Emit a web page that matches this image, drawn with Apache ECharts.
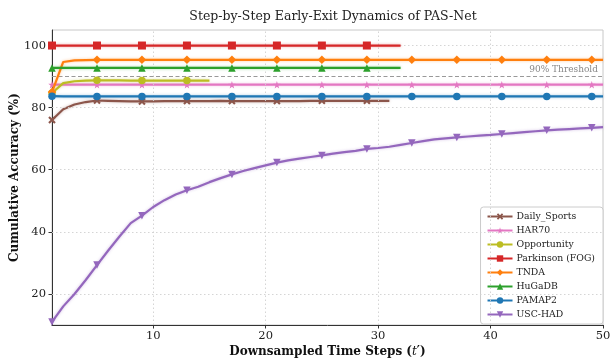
<!DOCTYPE html>
<html><head><meta charset="utf-8">
<script src="https://cdn.jsdelivr.net/npm/echarts@6/dist/echarts.min.js"></script>
<style>html,body{margin:0;padding:0;background:#fff}#c{width:610px;height:360px}</style>
</head><body><div id="c"></div>
<script>
const steps = [1,2,3,4,5,6,7,8,9,10,11,12,13,14,15,16,17,18,19,20,21,22,23,24,25,26,27,28,29,30,31,32,33,34,35,36,37,38,39,40,41,42,43,44,45,46,47,48,49,50];
const xTicks = [10,20,30,40,50];
const yTicks = [20,40,60,80,100];
const threshold = 90;

const dailySports = [76,79.5,81,81.8,82.3,82.2,82.1,82,82,82,82.1,82.1,82.1,82.1,82.1,82.2,82.1,82.1,82.1,82.1,82.1,82.1,82.1,82.2,82.2,82.2,82.2,82.2,82.2,82.2,82.2];
const har70 = [87.4,87.4,87.4,87.4,87.4,87.4,87.4,87.4,87.4,87.4,87.4,87.4,87.4,87.4,87.4,87.4,87.4,87.4,87.4,87.4,87.4,87.4,87.4,87.4,87.4,87.4,87.4,87.4,87.4,87.4,87.4,87.4,87.4,87.4,87.4,87.4,87.4,87.4,87.4,87.4,87.4,87.4,87.4,87.4,87.4,87.4,87.4,87.4,87.4,87.4];
const opportunity = [84.7,87.9,88.5,88.7,88.8,88.8,88.8,88.7,88.7,88.7,88.7,88.7,88.7,88.7,88.7];
const parkinson = [100,100,100,100,100,100,100,100,100,100,100,100,100,100,100,100,100,100,100,100,100,100,100,100,100,100,100,100,100,100,100,100];
const tnda = [85,94.7,95.2,95.3,95.4,95.4,95.4,95.4,95.4,95.4,95.4,95.4,95.4,95.4,95.4,95.4,95.4,95.4,95.4,95.4,95.4,95.4,95.4,95.4,95.4,95.4,95.4,95.4,95.4,95.4,95.4,95.4,95.4,95.4,95.4,95.4,95.4,95.4,95.4,95.4,95.4,95.4,95.4,95.4,95.4,95.4,95.4,95.4,95.4,95.4];
const hugadb = [92.8,92.8,92.8,92.8,92.8,92.8,92.8,92.8,92.8,92.8,92.8,92.8,92.8,92.8,92.8,92.8,92.8,92.8,92.8,92.8,92.8,92.8,92.8,92.8,92.8,92.8,92.8,92.8,92.8,92.8,92.8,92.8];
const pamap2 = [83.7,83.6,83.6,83.6,83.6,83.6,83.6,83.6,83.6,83.6,83.6,83.6,83.6,83.6,83.6,83.6,83.6,83.6,83.6,83.6,83.6,83.6,83.6,83.6,83.6,83.6,83.6,83.6,83.6,83.6,83.6,83.6,83.6,83.6,83.6,83.6,83.6,83.6,83.6,83.6,83.6,83.6,83.6,83.6,83.6,83.6,83.6,83.6,83.6,83.6];
const uscHad = [11,16,20,24.5,29.3,34,38.5,42.8,45.2,48,50.2,52,53.4,54.5,56,57.3,58.5,59.6,60.5,61.4,62.3,63,63.6,64.1,64.6,65.2,65.7,66.1,66.7,67,67.4,68,68.6,69.2,69.8,70.1,70.4,70.7,71,71.2,71.5,71.8,72.1,72.4,72.7,72.9,73.1,73.3,73.5,73.7];

const seriesNames = ['Daily_Sports','HAR70','Opportunity','Parkinson (FOG)','TNDA','HuGaDB','PAMAP2','USC-HAD'];
const seriesValues = [dailySports,har70,opportunity,parkinson,tnda,hugadb,pamap2,uscHad];
const colors = ['#8c564b','#e377c2','#bcbd22','#d62728','#ff7f0e','#2ca02c','#1f77b4','#9467bd'];
const X_PATH = 'path://M0,2 L2,0 L5,3 L8,0 L10,2 L7,5 L10,8 L8,10 L5,7 L2,10 L0,8 L3,5 Z';
const STAR_PATH = 'path://M50,0 L61,35 L98,35 L68,57 L79,91 L50,70 L21,91 L32,57 L2,35 L39,35 Z';
const symbols = [X_PATH, STAR_PATH, 'circle', 'rect', 'diamond', 'triangle', 'circle', 'path://M0,0 L10,0 L5,9 Z'];
const sizes = [7.5, 7.5, 7.5, 8, 8.5, 7.5, 7.5, 7.5];

const FONT = 'DejaVu Serif';
const series = seriesValues.map((vals, i) => ({
  name: seriesNames[i],
  type: 'line',
  z: 3 + i,
  symbol: symbols[i],
  symbolSize: sizes[i],
  showAllSymbol: true,
  color: colors[i],
  lineStyle: {width: 2.2, color: colors[i], shadowColor: colors[i] + '66', shadowBlur: 3},
  itemStyle: {color: colors[i]},
  data: vals.map((v, k) => (k % 4 === 0 ? [steps[k], v] : {value: [steps[k], v], symbol: 'none'})),
  animation: false
}));

series.push({
  type: 'line', data: [], silent: true, z: 1,
  markLine: {
    silent: true, symbol: 'none', animation: false,
    label: {show: false},
    lineStyle: {type: [1.5, 2.5], color: '#d0d0d0', width: 0.9},
    data: xTicks.filter(t => t < 50).map(t => ({xAxis: t})).concat(yTicks.map(t => ({yAxis: t})))
  }
});
series.push({
  type: 'line', data: [], silent: true, z: 2,
  markLine: {
    silent: true, symbol: 'none', animation: false,
    lineStyle: {type: [4, 2.5], color: '#999', width: 1},
    label: {show: true, position: 'insideEndTop', formatter: '90% Threshold', color: '#888',
      fontFamily: FONT, fontSize: 9, distance: [5, 2]},
    data: [{yAxis: threshold}]
  }
});

const chart = echarts.init(document.getElementById('c'), null, {renderer: 'canvas'});
chart.setOption({
  animation: false,
  backgroundColor: '#fff',
  title: {text: 'Step-by-Step Early-Exit Dynamics of PAS-Net', left: 328, textAlign: 'center', top: 5,
    textStyle: {fontFamily: FONT, fontSize: 12.5, fontWeight: 'normal', color: '#222'}},
  grid: {left: 52, right: 7, top: 30, bottom: 35, show: true, borderColor: '#c8c8c8', borderWidth: 1,
    containLabel: false, outerBoundsMode: 'none'},
  legend: {
    data: seriesNames, orient: 'vertical', right: 7, top: 207,
    itemWidth: 25, itemHeight: 8, itemGap: 5,
    padding: [5, 8, 5, 6],
    backgroundColor: '#fff', borderColor: '#ccc', borderWidth: 1, borderRadius: 3,
    textStyle: {fontFamily: FONT, fontSize: 9.3, color: '#222', padding: [0, 0, 0, -1]}
  },
  xAxis: {
    type: 'value', min: 1, max: 50,
    name: 'Downsampled Time Steps ({i|t}′)', nameLocation: 'middle', nameGap: 21, nameMoveOverlap: false,
    nameTextStyle: {fontFamily: FONT, fontSize: 12, fontWeight: 'bold', color: '#111',
      rich: {i: {fontFamily: FONT, fontStyle: 'italic', fontSize: 12, fontWeight: 'normal', color: '#111'}}},
    axisLine: {onZero: false, lineStyle: {color: '#333', width: 1}},
    axisTick: {show: true, length: 3.5, customValues: xTicks, lineStyle: {color: '#333'}},
    axisLabel: {customValues: xTicks, fontFamily: FONT, fontSize: 11.5, color: '#222', margin: 5},
    splitLine: {show: false}
  },
  yAxis: {
    type: 'value', min: 10, max: 105,
    name: 'Cumulative Accuracy (%)', nameLocation: 'middle', nameGap: 31, nameRotate: 90, nameMoveOverlap: false,
    nameTextStyle: {fontFamily: FONT, fontSize: 12, fontWeight: 'bold', color: '#111'},
    axisLine: {show: true, onZero: false, lineStyle: {color: '#333', width: 1}},
    axisTick: {show: true, length: 3.5, customValues: yTicks, lineStyle: {color: '#333'}},
    axisLabel: {customValues: yTicks, fontFamily: FONT, fontSize: 11.5, color: '#222', margin: 6},
    splitLine: {show: false}
  },
  series: series
});
</script></body></html>
